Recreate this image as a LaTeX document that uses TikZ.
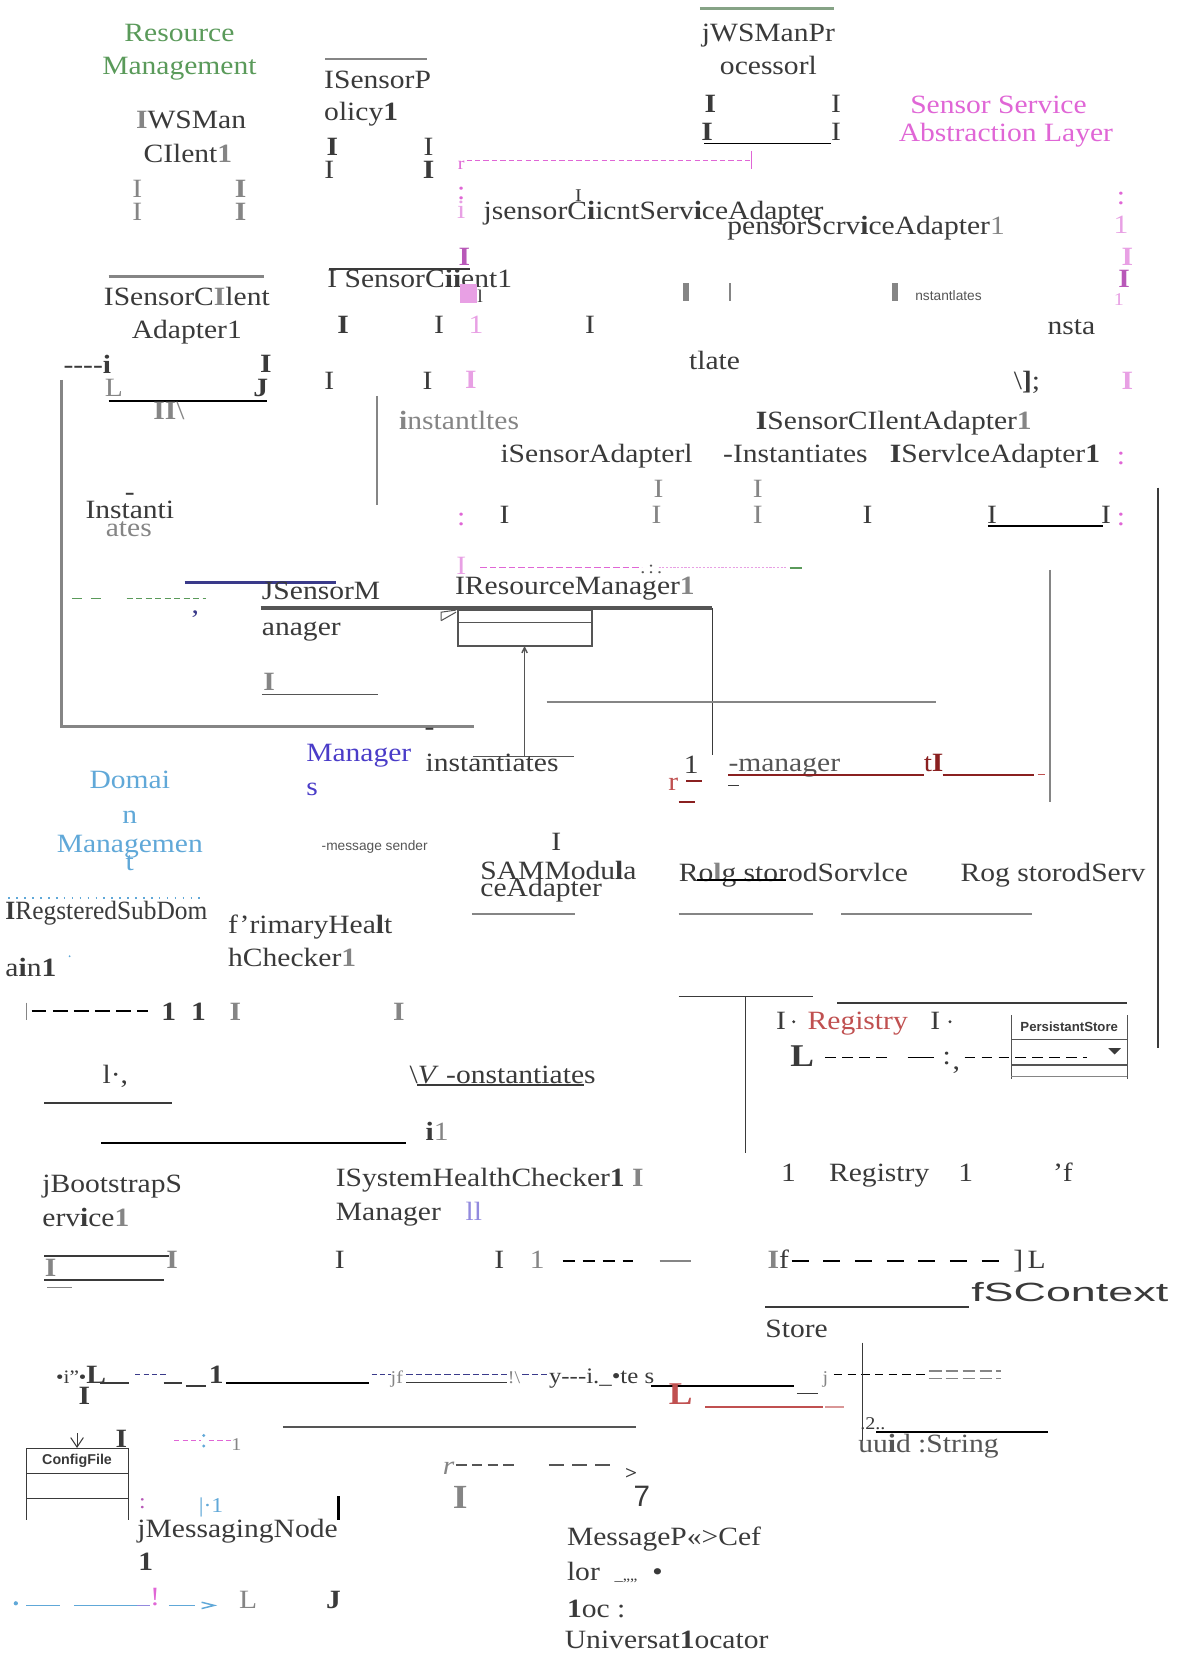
\documentclass[tikz,border=0pt]{standalone}
\usepackage{fontspec}
\usepackage{graphicx}
\setmainfont{Liberation Serif}[FakeStretch=1.12]
\setsansfont{Liberation Sans}
\usetikzlibrary{arrows.meta}
\definecolor{txt}{HTML}{3A3A3A}
\definecolor{gr}{HTML}{858585}
\definecolor{dkgray}{HTML}{555555}
\definecolor{rmgreen}{HTML}{5A9A5A}
\definecolor{gg}{HTML}{86A386}
\definecolor{mag}{HTML}{E066D6}
\definecolor{lmag}{HTML}{E8A0E4}
\definecolor{dmag}{HTML}{B858B8}
\definecolor{dblue}{HTML}{60A8D8}
\definecolor{purp}{HTML}{4A3CC8}
\definecolor{navy}{HTML}{3A3A8A}
\definecolor{regred}{HTML}{C05050}
\definecolor{dred}{HTML}{8A2020}
\newcommand\bigtxt{\fontsize{25}{30}\selectfont}
\newcommand\smalltxt{\fontsize{17}{20}\selectfont}
\newcommand\gb[1]{{\color{gr}\textbf{#1}}}
\tikzset{
  t/.style={inner sep=0pt, anchor=west, text=txt, font=\bigtxt, text height=18pt, text depth=0pt},
  tc/.style={t, anchor=center},
  tag/.style={inner sep=0pt, anchor=center, font=\sffamily\fontsize{13}{15}\selectfont, text=dkgray},
  gline/.style={draw=gr, line width=2.6pt},
  kline/.style={draw=black, line width=1.8pt},
  thin/.style={draw=txt, line width=1pt},
}
\begin{document}
\begin{tikzpicture}[x=1pt,y=-1pt]
\useasboundingbox (0,0) rectangle (1123,1568);
\fill[white] (0,0) rectangle (1123,1568);

% ---------------- Resource Management (top left)
\node[tc,text=rmgreen] (rm1) at (170,30) {Resource};
\node[tc,text=rmgreen] (rm2) at (170,62) {Management};
\draw[gline] (308,56) -- (405,56);
\node[t] (sp1) at (307,75) {ISensorP};
\node[t] (sp2) at (307,105) {olicy\textbf{1}};
\node[tc] (wm1) at (181,113) {\gb{I}WSMan};
\node[tc] (wm2) at (178,145) {CIlent\gb{1}};
\node[tc,text=gr] (g1) at (130,178) {I};
\node[tc,text=gr] (g2) at (130,200) {I};
\node[tc,text=gr] (g3) at (228,178) {\textbf{I}};
\node[tc,text=gr] (g4) at (228,200) {\textbf{I}};
\node[tc] (k1) at (315,138) {\textbf{I}};
\node[tc] (k2) at (312,160) {I};
\node[tc] (k3) at (406,138) {I};
\node[tc] (k4) at (406,160) {\textbf{I}};

% ---------------- WSMan processor (top centre)
\draw[draw=gg, line width=3pt] (663,8) -- (790,8);
\node[tc] (wp1) at (728,30) {jWSManPr};
\node[tc] (wp2) at (728,62) {ocessorl};
\node[tc] (k5) at (673,98) {\textbf{I}};
\node[tc] (k6) at (792,98) {I};
\node[tc] (k7) at (670,124) {\textbf{I}};
\node[tc] (k8) at (792,124) {I};
\draw[kline] (667,136) -- (787,136);

% ---------------- Sensor Service Abstraction Layer
\node[tc,text=mag] (ss1) at (946,99) {Sensor Service};
\node[tc,text=mag] (ss2) at (953,125) {Abstraction Layer};
\node[tc,text=mag,font=\smalltxt] (mr) at (437,152) {r};
\draw[mag, dashed, line width=1pt, dash pattern=on 5pt off 3pt] (442,152) -- (712,152);
\draw[mag, line width=1pt] (712,143) -- (712,160);
\node[tc,text=mag] (mc1) at (437,180) {:};
\node[tc,text=lmag] (mc2) at (437,198) {i};
\node[tc,font=\smalltxt] (k9) at (548,182) {I};
\node[t] (sca) at (458,199) {jsensorC\textbf{i}icntServ\textbf{i}ceAdapter};
\node[t] (psa) at (689,213) {pensorScrv\textbf{i}ceAdapter{\color{gr}1}};
\node[tc,text=mag] (mr1) at (1062,185) {:};
\node[tc,text=lmag] (mr2) at (1062,212) {1};
\node[tc,text=lmag] (mr3) at (1068,243) {\textbf{I}};
\node[tc,text=dmag] (mr4) at (1065,263) {\textbf{I}};
\node[tc,text=lmag,font=\smalltxt] (mr5) at (1060,280) {1};

% ---------------- ISensorClientAdapter (left)
\draw[gline] (103,262) -- (250,262);
\node[tc] (sca1) at (177,280) {ISensorC\gb{I}lent};
\node[tc] (sca2) at (177,312) {Adapter1};
\node[t] (dl1) at (60,345) {{-}{-}{-}{-}\textbf{i}};
\node[tc] (k10) at (252,344) {\textbf{I}};
\node[tc,text=gr] (k11) at (108,367) {L};
\node[tc] (k12) at (247,367) {\textbf{J}};
\draw[kline] (103,380) -- (253,380);
\node[tc,text=gr] (k13) at (160,388) {\textbf{II}\textbackslash};
\draw[gline] (58,360) -- (58,688) -- (449,688);

% ---------------- ISensorClient
\draw[draw=txt, line width=1.6pt] (312,255) -- (445,255);
\node[t] (scl) at (310,263) {I SensorC\textbf{ii}ent1};
\node[tc,text=dmag] (mm1) at (440,243) {\textbf{I}};
\fill[lmag] (436,269) rectangle (452,287);
\node[tc,font=\smalltxt] (k14) at (455,278) {l};
\node[tc,text=lmag] (mm2) at (451,307) {1};
\node[tc,text=lmag] (mm3) at (446,359) {\textbf{I}};
\node[tc] (k15) at (325,307) {\textbf{I}};
\node[tc] (k16) at (416,307) {I};
\node[tc] (k17) at (559,307) {I};
\node[tc] (k18) at (312,360) {I};
\node[tc] (k19) at (405,360) {I};
\fill[gr] (647,268) rectangle (653,285);
\fill[gr] (691,268) rectangle (693,285);
\fill[gr] (845,268) rectangle (851,285);
\node[tag, anchor=west] (ins1) at (867,280) {nstantlates};
\node[tc] (ns) at (1015,308) {nsta};
\node[tc] (tl) at (677,341) {tlate};
\node[tc] (br) at (973,360) {\textbackslash\textbf{]};};
\node[tc,text=lmag] (mm4) at (1068,360) {\textbf{I}};
\draw[draw=gr, line width=1.4pt] (357,375) -- (357,478);

% ---------------- adapter row
\node[t,text=gr] (ins2) at (378,398) {\textbf{i}nstantltes};
\node[t] (scaa) at (716,398) {\textbf{I}SensorCIlentAdapter\gb{1}};
\node[t] (sad) at (474,429) {iSensorAdapterl};
\node[t] (ins3) at (685,429) {-Instantiates};
\node[t] (svad) at (843,429) {\textbf{I}ServlceAdapter\textbf{1}};
\node[tc,text=mag] (mr6) at (1062,431) {:};
\node[tc,text=gr] (g5) at (624,462) {I};
\node[tc,text=gr] (g6) at (718,462) {I};
\node[tc,text=gr] (g7) at (622,487) {I};
\node[tc,text=gr] (g8) at (718,487) {I};
\node[tc] (k20) at (478,487) {I};
\node[tc] (k21) at (822,487) {I};
\node[tc] (k22) at (940,487) {I};
\node[tc] (k23) at (1048,487) {I};
\node[tc,text=mag] (mr7) at (437,489) {:};
\node[tc,text=mag] (mr8) at (1062,489) {:};
\draw[kline] (936,498) -- (1045,498);
\draw[draw=txt, line width=1.2pt] (1097,462) -- (1097,993);

% ---------------- instantiates (left)
\node[tc,text=txt] (inst1) at (123,465) {-};
\node[tc,text=txt] (inst2) at (123,482) {Instanti};
\node[tc,text=gr] (inst3) at (122,499) {ates};

% ---------------- sensor / resource manager
\draw[rmgreen, line width=1.6pt, dash pattern=on 10pt off 8pt] (68,567) -- (100,567);
\draw[rmgreen, line width=1.6pt, dash pattern=on 6pt off 3pt] (120,567) -- (195,567);
\node[tc,text=navy] (cm) at (185,572) {,};
\draw[draw=navy, line width=2.4pt] (175,552) -- (318,552);
\node[t] (sm1) at (248,559) {JSensorM};
\node[t] (sm2) at (248,593) {anager};
\draw[draw=dkgray, line width=3.5pt] (247,576) -- (675,576);
\node[t] (rsm) at (431,554) {IResourceManager\gb{1}};
\node[tc,text=lmag] (mm5) at (437,535) {I};
\draw[mag, line width=1pt, dash pattern=on 6pt off 3pt] (455,538) -- (608,538);
\node[tc,text=dkgray,font=\smalltxt] (dt) at (617,534) {.\,:\,.};
\draw[lmag, line width=1pt, dash pattern=on 2pt off 1.5pt] (624,538) -- (745,538);
\draw[rmgreen, line width=2pt] (748,538) -- (760,538);
\draw[draw=dkgray, line width=1.4pt] (434,578) rectangle (561,612);
\draw[draw=dkgray, line width=1.2pt] (434,590) -- (561,590);
\draw[draw=dkgray, line width=1pt] (418,588) -- (418,580) -- (432,578);
\draw[draw=dkgray, line width=1pt] (418,588) -- (432,580);
\coordinate (arrS) at (497,717);
\coordinate (arrE) at (497,612);
\draw[draw=dkgray, line width=1.4pt, -{Straight Barb[length=5pt,width=5pt]}] (arrS) -- (arrE);
\draw[draw=dkgray, line width=1.2pt] (448,717) -- (544,717);
\draw[draw=txt, line width=1.4pt] (675,576) -- (675,715);
\draw[gline] (518,665) -- (887,665);
\draw[draw=gr, line width=1.6pt] (995,540) -- (995,760);
\node[tc,text=gr] (g9) at (255,645) {\textbf{I}};
\draw[draw=dkgray, line width=1.8pt] (248,658) -- (358,658);

% ---------------- Managers
\node[t,text=purp] (mg1) at (290,712) {Manager};
\node[t,text=purp] (mg2) at (290,745) {s};
\node[tc] (dsh) at (407,688) {-};
\node[t] (ins4) at (403,722) {instantiates};
\node[tc,text=regred] (rr) at (638,740) {r};
\node[tc] (one1) at (655,724) {1};
\draw[draw=dred, line width=1.6pt] (650,740) -- (665,740);
\draw[draw=dred, line width=1.6pt] (643,760) -- (658,760);
\node[t,text=dkgray] (mgr) at (690,722) {-manager};
\draw[draw=dred, line width=1.6pt] (690,734) -- (875,734);
\draw[draw=txt, line width=1pt] (690,744) -- (700,744);
\node[t,text=dred] (ti) at (875,722) {t\textbf{I}};
\draw[draw=dred, line width=1.6pt] (893,734) -- (980,734);
\draw[draw=regred, line width=1.4pt] (983,734) -- (990,734);

% ---------------- Domain Management
\node[tc,text=dblue] (dm1) at (123,738) {Domai};
\node[tc,text=dblue] (dm2) at (123,771) {n};
\node[tc,text=dblue] (dm3) at (123,799) {Managemen};
\node[tc,text=dblue] (dm4) at (123,816) {t};
\node[tag] (msg) at (355,802) {-message sender};
\node[tc] (k24) at (527,797) {I};
\node[t] (sam1) at (455,824) {SAMModu\textbf{l}a};
\node[t] (sam2) at (455,840) {ceAdapter};
\draw[gline] (447,866) -- (545,866);
\node[t] (rg1) at (643,826) {Ro\gb{l}g storodSorvlce};
\draw[kline] (660,834) -- (745,834);
\draw[gline] (643,866) -- (770,866);
\draw[gline] (797,866) -- (978,866);
\node[t] (rg2) at (910,826) {Rog storodServ};

% ---------------- registered sub domain / health checker
\draw[dblue, line width=1.4pt, dash pattern=on 1.5pt off 6pt] (8,851) -- (190,851);
\node[t] (rsd1) at (5,862) {\scalebox{0.86}[1]{\textbf{I}RegsteredSubDom}};
\node[t] (rsd2) at (5,916) {a\textbf{i}n\textbf{1}};
\fill[dblue] (66,906) circle (1pt);
\node[t] (ph1) at (216,875) {f'rimaryHea\textbf{l}t};
\node[t] (ph2) at (216,907) {hChecker\gb{1}};
\draw[draw=gr, line width=0.8pt] (25,950) -- (25,966);
\draw[black, line width=1.8pt, dash pattern=on 14pt off 6pt] (30,958) -- (140,958);
\node[tc] (k25) at (160,958) {\textbf{1}};
\node[tc] (k26) at (188,958) {\textbf{1}};
\node[tc,text=gr] (g10) at (223,958) {\textbf{I}};
\node[tc,text=gr] (g11) at (378,958) {\textbf{I}};

% ---------------- Registry / PersistantStore
\draw[thin] (643,944) -- (770,944);
\draw[thin] (706,944) -- (706,1092);
\draw[draw=txt, line width=2.2pt] (793,950) -- (1068,950);
\node[tc] (k27) at (740,966) {I};
\fill[txt] (752,968) circle (1.5pt);
\node[t,text=regred] (reg1) at (765,966) {Registry};
\node[tc] (k28) at (886,966) {I};
\fill[txt] (900,968) circle (1.5pt);
\draw[draw=dkgray, line width=1.2pt] (958,962) -- (958,1022);
\draw[draw=dkgray, line width=1.2pt] (1068,962) -- (1068,1022);
\node[tag, font=\sffamily\bfseries\fontsize{12.5}{14}\selectfont, text=txt] (ps) at (1013,973) {PersistantStore};
\draw[draw=dkgray, line width=1.2pt] (958,985) -- (1068,985);
\draw[draw=dkgray, line width=1.2pt] (958,1009) -- (1068,1009);
\draw[draw=gr, line width=1.2pt] (958,1020) -- (1068,1020);
\fill[txt] (1050,993) -- (1062,993) -- (1056,999) -- cycle;
\node[tc] (bl) at (760,1001) {\fontsize{30}{30}\selectfont\textbf{L}};
\draw[black, line width=1.4pt, dash pattern=on 10pt off 6pt] (782,1002) -- (840,1002);
\draw[black, line width=1.4pt] (860,1002) -- (885,1002);
\node[tc] (cl) at (897,1000) {:};
\node[tc] (cm2) at (906,1004) {,};
\draw[black, line width=1.4pt, dash pattern=on 10pt off 6pt] (914,1002) -- (1030,1002);

% ---------------- constantiates
\node[t] (lc) at (97,1018) {l·,};
\draw[thin] (42,1045) -- (163,1045);
\node[t] (cins) at (388,1018) {\textbackslash\textit{V} -onstantiates};
\draw[draw=txt, line width=1.4pt] (395,1028) -- (553,1028);
\draw[kline] (96,1083) -- (385,1083);
\node[t] (i1) at (403,1072) {\textbf{i}{\color{gr}1}};

% ---------------- bootstrap / system health
\node[t] (bs1) at (40,1121) {jBootstrapS};
\node[t] (bs2) at (40,1153) {erv\textbf{i}ce\gb{1}};
\node[t] (sh1) at (318,1115) {ISystemHealthChecker\textbf{1} \gb{I}};
\node[t] (sh2) at (318,1147) {Manager};
\node[tc,text=purp!60] (ll) at (449,1147) {ll};
\node[tc] (one2) at (747,1110) {1};
\node[tc] (reg2) at (833,1110) {Registry};
\node[tc] (one3) at (915,1110) {1};
\node[tc] (qf) at (1007,1110) {'f};
\draw[draw=txt, line width=1.6pt] (42,1190) -- (160,1190);
\node[tc,text=gr] (g12) at (48,1200) {\textbf{I}};
\node[tc,text=gr] (g13) at (163,1193) {\textbf{I}};
\draw[draw=txt, line width=1.6pt] (42,1213) -- (155,1213);
\draw[draw=gr, line width=1.4pt] (45,1220) -- (68,1220);
\node[tc] (k29) at (322,1193) {I};
\node[tc] (k30) at (473,1193) {I};
\node[tc,text=gr] (g14) at (509,1193) {1};
\draw[black, line width=1.6pt, dash pattern=on 12pt off 7pt] (533,1195) -- (600,1195);
\draw[draw=gr, line width=1.6pt] (625,1195) -- (655,1195);
\node[t] (if) at (727,1193) {\gb{I}f};
\draw[black, line width=1.6pt, dash pattern=on 16pt off 14pt] (750,1195) -- (950,1195);
\node[t] (bj) at (960,1193) {]\,L};
\draw[draw=txt, line width=1.8pt] (725,1238) -- (918,1238);
\node[t] (fsc) at (920,1224) {\scalebox{1.7}[1]{\sffamily fSContext}};
\node[t] (st) at (725,1258) {Store};

% ---------------- long dependency row
\node[t] (bul) at (53,1302) {\fontsize{18}{20}\selectfont\textbullet i"\textbullet\fontsize{25}{30}\selectfont\textbf{L}};
\draw[draw=txt, line width=1.6pt] (95,1310) -- (122,1310);
\draw[navy, line width=1.2pt, dash pattern=on 5pt off 3pt] (128,1302) -- (158,1302);
\draw[draw=txt, line width=1.6pt] (155,1310) -- (172,1310);
\draw[draw=txt, line width=2pt] (176,1313) -- (195,1313);
\node[tc] (one4) at (205,1302) {\textbf{1}};
\draw[kline] (214,1310) -- (350,1310);
\draw[navy, line width=1.2pt, dash pattern=on 5pt off 3pt] (352,1302) -- (370,1302);
\node[tc,text=gr,font=\smalltxt] (jf) at (376,1302) {jf};
\draw[navy, line width=1.2pt, dash pattern=on 6pt off 3pt] (385,1302) -- (480,1302);
\draw[draw=txt, line width=1.2pt] (385,1310) -- (480,1310);
\node[tc,text=gr,font=\smalltxt] (ex) at (487,1302) {!\textbackslash};
\draw[navy, line width=1.2pt, dash pattern=on 6pt off 3pt] (495,1302) -- (518,1302);
\node[t, font=\fontsize{21}{24}\selectfont] (yi) at (520,1302) {y{-}{-}{-}i.\_\textbullet te s};
\draw[kline] (617,1313) -- (752,1313);
\draw[draw=txt, line width=1.4pt] (755,1320) -- (775,1320);
\node[tc,text=gr,font=\smalltxt] (jj) at (782,1302) {j};
\draw[black, line width=1.4pt, dash pattern=on 8pt off 5pt] (790,1302) -- (878,1302);
\draw[draw=txt, line width=1.4pt] (817,1272) -- (817,1365);
\draw[draw=gr, line width=1.2pt, dash pattern=on 12pt off 4pt] (880,1299) -- (948,1299);
\draw[draw=gr, line width=1.2pt, dash pattern=on 12pt off 4pt] (880,1306) -- (948,1306);
\node[tc,text=regred] (rl) at (645,1322) {\fontsize{30}{30}\selectfont\textbf{L}};
\draw[draw=regred, line width=1.6pt] (668,1333) -- (780,1333);
\draw[draw=regred!60, line width=1.6pt] (782,1333) -- (800,1333);
\node[tc] (k31) at (80,1322) {\textbf{I}};
\draw[draw=dkgray, line width=1.2pt] (268,1352) -- (603,1352);
\node[tc,font=\smalltxt] (two) at (827,1345) {.2..};
\draw[kline] (830,1357) -- (993,1357);
\node[t,text=dkgray] (uuid) at (813,1367) {uu\textbf{i}d :String};

% ---------------- ConfigFile
\draw[draw=txt, line width=1.2pt] (25,1440) -- (25,1372) -- (122,1372) -- (122,1440);
\draw[draw=txt, line width=1.2pt] (25,1396) -- (122,1396);
\draw[draw=txt, line width=1.2pt] (25,1420) -- (122,1420);
\node[tag, font=\sffamily\bfseries\fontsize{13.5}{15}\selectfont, text=txt] (cf) at (73,1384) {ConfigFile};
\draw[draw=txt, line width=1pt] (73,1358) -- (73,1371);
\draw[draw=txt, line width=1pt] (67,1362) -- (73,1371) -- (79,1362);
\node[tc] (k32) at (115,1362) {\textbf{I}};
\draw[mag, line width=1.2pt, dash pattern=on 5pt off 3pt] (165,1365) -- (190,1365);
\fill[dblue] (193,1360) circle (1.5pt);
\fill[dblue] (193,1370) circle (1.5pt);
\draw[mag, line width=1.2pt, dash pattern=on 5pt off 3pt] (198,1365) -- (220,1365);
\node[tc,text=gr,font=\smalltxt] (one5) at (224,1365) {1};

% ---------------- MessageProcessor / MessagingNode
\node[tc,text=gr] (rr2) at (425,1388) {\textit{r}};
\draw[draw=dkgray, line width=1.4pt, dash pattern=on 10pt off 5pt] (432,1388) -- (490,1388);
\draw[draw=dkgray, line width=1.4pt, dash pattern=on 14pt off 8pt] (520,1388) -- (585,1388);
\node[tc] (gt) at (598,1393) {\fontsize{18}{20}\selectfont\textbf{>}};
\node[tc,text=gr] (g15) at (436,1420) {\fontsize{32}{32}\selectfont\textbf{I}};
\node[tc] (seven) at (608,1418) {\fontsize{28}{28}\selectfont\textsf{7}};
\node[tc,text=dmag] (mc3) at (135,1420) {\fontsize{20}{20}\selectfont:};
\node[tc,text=dblue] (bc) at (200,1424) {\fontsize{20}{20}\selectfont|\textperiodcentered1};
\fill[black] (319,1417) rectangle (322,1440);
\node[t] (mn1) at (130,1448) {jMessagingNode};
\node[tc] (mn2) at (138,1479) {\textbf{1}};
\node[t] (mp1) at (537,1455) {MessageP«>Cef};
\node[t] (mp2) at (537,1488) {lor\ \ {\fontsize{14}{14}\selectfont \_,,,,}\ \ \textbullet};
\node[t] (mp3) at (537,1523) {\textbf{1}oc :};
\node[t] (mp4) at (535,1553) {Universat\textbf{1}ocator};
\fill[dblue] (15,1519) circle (2pt);
\draw[draw=dblue, line width=1.6pt] (25,1521) -- (57,1521);
\draw[draw=dblue, line width=1.6pt] (70,1521) -- (130,1521);
\draw[draw=purp!60, line width=1.6pt] (130,1521) -- (142,1521);
\node[tc,text=mag] (exc) at (147,1512) {!};
\draw[draw=dblue, line width=1.6pt] (160,1521) -- (185,1521);
\draw[draw=dblue, line width=1.4pt] (191,1518) -- (203,1521) -- (191,1524);
\node[tc,text=gr] (lL) at (235,1515) {L};
\node[tc] (jJ) at (316,1515) {\textbf{J}};
\end{tikzpicture}
\end{document}
